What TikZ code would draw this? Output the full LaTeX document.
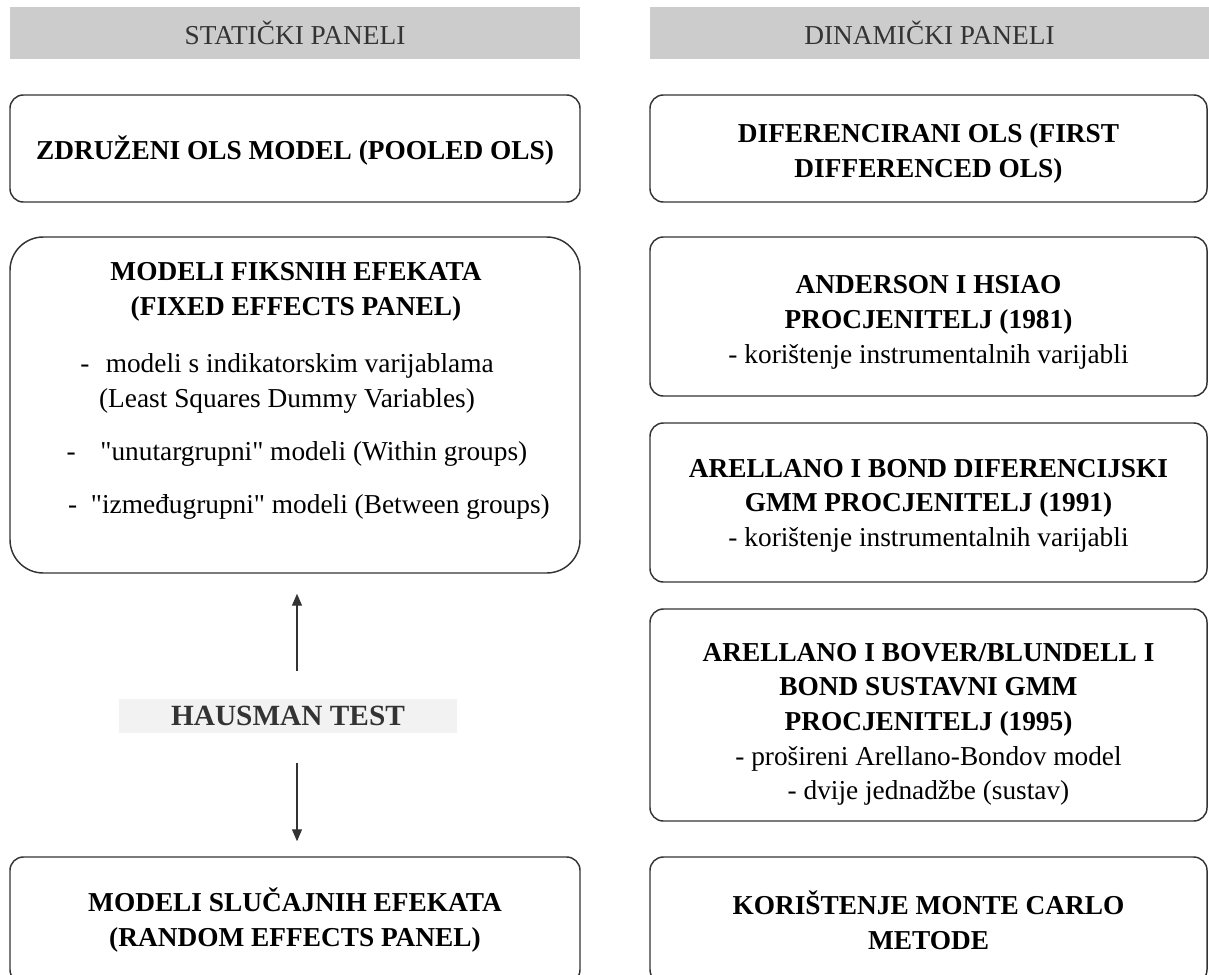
\documentclass[tikz,border=0pt]{standalone}
\usepackage{fontspec}
\setmainfont{Liberation Serif}
\newfontfamily\qfont{Liberation Serif}[Ligatures=TeXOff]
\usetikzlibrary{arrows.meta}
\definecolor{hdrfill}{HTML}{CCCCCC}
\definecolor{hdrtext}{HTML}{333333}
\definecolor{boxline}{HTML}{333333}
\definecolor{hausfill}{HTML}{F2F2F2}
\newcommand{\sq}{{\qfont"}}
\begin{document}
\begin{tikzpicture}[x=0.75pt,y=-0.75pt,
  txt/.style={font=\fontsize{20.5pt}{26pt}\selectfont, text=black},
  header/.style={txt, fill=hdrfill, text=hdrtext, minimum height=39pt, inner sep=0pt},
  box/.style={txt, draw=boxline, line width=1.1pt, rounded corners=10pt, align=center, inner sep=0pt},
  lbox/.style={box, minimum width=427.5pt},
  rbox/.style={box, minimum width=417.75pt},
  btxt/.style={txt, align=center, inner sep=0pt},
  item/.style={txt, inner sep=0pt},
  arr/.style={draw=boxline, line width=0.9pt, -{Triangle[length=9pt,width=7.5pt]}}
]
\useasboundingbox (0,0) rectangle (1209,974);
\clip (0,0) rectangle (1209,974);

% headers
\node[header, minimum width=427.5pt] (hl) at (295,33) {STATIČKI PANELI};
\node[header, minimum width=419.25pt] (hr) at (929.5,33) {DINAMIČKI PANELI};

% left column
\node[lbox, minimum height=80.25pt] (zd) at (295,148.5) {};
\node[btxt] (zdt) at ([yshift=-1.5pt]zd.center) {\textbf{ZDRUŽENI OLS MODEL (POOLED OLS)}};
\node[lbox, minimum height=252pt, rounded corners=25pt] (fe) at (295,405) {};
\node[btxt] (fet) at (296,292) {\textbf{MODELI FIKSNIH EFEKATA}\\\textbf{(FIXED EFFECTS PANEL)}};
\node[item] (fea) at (287,366) {-\hspace{0.6em}modeli s indikatorskim varijablama};
\node[item] (feb) at (287,401) {(Least Squares Dummy Variables)};
\node[item] (fec) at (297,454) {-\hspace{0.9em}\sq unutargrupni\sq{} modeli (Within groups)};
\node[item] (fed) at (309,507) {-\hspace{0.5em}\sq između\-grupni\sq{} modeli (Between groups)};

\node[txt, font=\fontsize{22pt}{26pt}\selectfont, fill=hausfill, text=hdrtext, minimum width=253.5pt, minimum height=25.5pt, inner sep=0pt] (haus) at (288,715.5) {\textbf{HAUSMAN TEST}};

\node[lbox, minimum height=94.5pt] (re) at (295,920) {\textbf{MODELI SLUČAJNIH EFEKATA}\\\textbf{(RANDOM EFFECTS PANEL)}};

\draw[arr, shorten <=20.6pt, shorten >=15pt] ([xshift=6.75pt]haus.north) -- ([xshift=6.75pt]haus.north |- fe.south);
\draw[arr, shorten <=22.9pt, shorten >=11.25pt] ([xshift=6.75pt]haus.south) -- ([xshift=6.75pt]haus.south |- re.north);

% right column
\node[rbox, minimum height=80.25pt] (fd) at (928.5,148.5) {};
\node[btxt] (fdt) at ([yshift=-3.5pt]fd.center) {\textbf{DIFERENCIRANI OLS (FIRST}\\\textbf{DIFFERENCED OLS)}};
\node[rbox, minimum height=119.25pt] (ah) at (928.5,316.5) {};
\node[btxt] (aht) at ([yshift=-4.5pt]ah.center) {\textbf{ANDERSON I HSIAO}\\\textbf{PROCJENITELJ (1981)}\\- korištenje instrumentalnih varijabli};
\node[rbox, minimum height=119.25pt] (ab) at (928.5,502.5) {};
\node[btxt] (abt) at ([yshift=-2.5pt]ab.center) {\textbf{ARELLANO I BOND DIFERENCIJSKI}\\\textbf{GMM PROCJENITELJ (1991)}\\- korištenje instrumentalnih varijabli};
\node[rbox, minimum height=159pt] (bb) at (928.5,715) {};
\node[btxt] (bbt) at ([yshift=-7pt]bb.center) {\textbf{ARELLANO I BOVER/BLUNDELL I}\\\textbf{BOND SUSTAVNI GMM}\\\textbf{PROCJENITELJ (1995)}\\- prošireni Arellano-Bondov model\\- dvije jednadžbe (sustav)};
\node[rbox, minimum height=94.5pt] (mc) at (928.5,920) {\textbf{KORIŠTENJE MONTE CARLO}\\\textbf{METODE}};
\end{tikzpicture}
\end{document}
